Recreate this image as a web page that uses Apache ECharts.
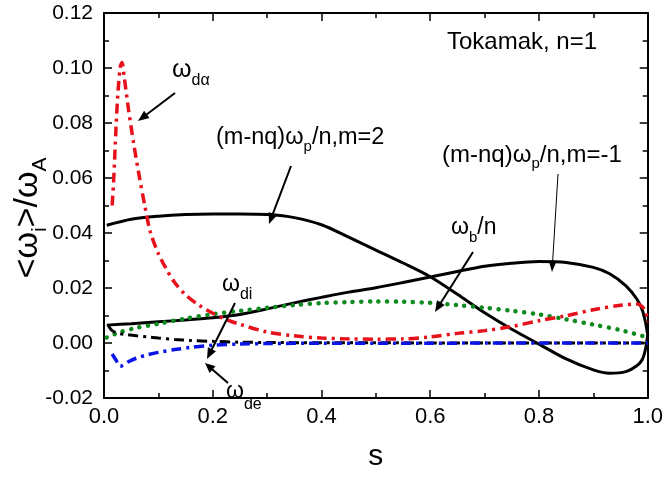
<!DOCTYPE html>
<html>
<head>
<meta charset="utf-8">
<script src="https://cdn.jsdelivr.net/npm/echarts@6/dist/echarts.min.js"></script>
<style>
html,body{margin:0;padding:0;background:#fff;}
#chart{width:666px;height:477px;}
</style>
</head>
<body>
<div id="chart"></div>
<script>
// ---- data ----
const xTicks = [0, 0.2, 0.4, 0.6, 0.8, 1.0];
const yTicks = [-0.02, 0, 0.02, 0.04, 0.06, 0.08, 0.10, 0.12];

// (m-nq) omega_p / n, m=2
const sM2 = [0.005, 0.05, 0.1, 0.15, 0.2, 0.25, 0.3, 0.35, 0.4, 0.45, 0.5, 0.55, 0.6, 0.65, 0.7, 0.75, 0.8, 0.85, 0.9, 0.93, 0.96, 0.98, 0.99, 0.996, 1.0];
const vM2 = [0.0428, 0.0450, 0.0461, 0.0467, 0.0469, 0.0469, 0.0467, 0.0456, 0.0430, 0.0385, 0.0338, 0.0291, 0.0241, 0.0177, 0.0110, 0.0050, -0.0004, -0.0058, -0.0098, -0.0110, -0.0104, -0.0083, -0.0060, -0.0022, 0.0030];

// (m-nq) omega_p / n, m=-1
const sM1 = [0.005, 0.05, 0.1, 0.15, 0.2, 0.25, 0.3, 0.35, 0.4, 0.45, 0.5, 0.55, 0.6, 0.65, 0.7, 0.75, 0.8, 0.85, 0.9, 0.93, 0.96, 0.98, 0.99, 0.996, 1.0];
const vM1 = [0.0065, 0.0070, 0.0077, 0.0084, 0.0092, 0.0104, 0.0124, 0.0146, 0.0166, 0.0185, 0.0201, 0.0220, 0.0240, 0.0260, 0.0279, 0.0290, 0.0296, 0.0293, 0.0275, 0.0252, 0.0208, 0.0160, 0.0120, 0.0075, 0.0030];

// omega_b / n
const sB = [0.005, 0.03, 0.06, 0.1, 0.15, 0.2, 0.25, 0.3, 0.35, 0.4, 0.45, 0.5, 0.55, 0.6, 0.65, 0.7, 0.75, 0.8, 0.85, 0.9, 0.95, 1.0];
const vB = [0.0020, 0.0040, 0.0055, 0.0070, 0.0089, 0.0105, 0.0117, 0.0128, 0.0138, 0.0145, 0.0149, 0.0151, 0.0150, 0.0146, 0.0138, 0.0128, 0.0117, 0.0104, 0.0086, 0.0067, 0.0047, 0.0020];

// omega_d alpha
const sDa = [0.015, 0.018, 0.022, 0.026, 0.03, 0.033, 0.037, 0.045, 0.055, 0.065, 0.075, 0.085, 0.1, 0.115, 0.13, 0.15, 0.175, 0.2, 0.225, 0.25, 0.3, 0.35, 0.4, 0.45, 0.5, 0.55, 0.6, 0.65, 0.7, 0.75, 0.8, 0.85, 0.9, 0.95, 0.98, 0.995, 1.0];
const vDa = [0.050, 0.060, 0.078, 0.092, 0.1005, 0.102, 0.097, 0.085, 0.072, 0.0605, 0.050, 0.0405, 0.0325, 0.0268, 0.0220, 0.0175, 0.0137, 0.0108, 0.0085, 0.0068, 0.0040, 0.0026, 0.0018, 0.0015, 0.0014, 0.0015, 0.0022, 0.0035, 0.0045, 0.0060, 0.0081, 0.0099, 0.0121, 0.0137, 0.0142, 0.0120, 0.0075];

// omega_di
const sDi = [0.008, 0.015, 0.025, 0.04, 0.06, 0.08, 0.1, 0.13, 0.16, 0.2, 0.25, 0.3, 0.4, 0.5, 0.6, 0.7, 0.8, 0.9, 1.0];
const vDi = [0.0063, 0.0045, 0.0036, 0.0031, 0.0026, 0.0022, 0.0018, 0.0013, 0.0009, 0.0006, 0.0003, 0.0002, 0.0001, 0.0001, 0, 0, 0, 0, 0];

// omega_de
const sDe = [0.015, 0.022, 0.03, 0.045, 0.06, 0.08, 0.1, 0.13, 0.16, 0.2, 0.25, 0.3, 0.4, 0.5, 0.6, 0.7, 0.8, 0.9, 1.0];
const vDe = [-0.0040, -0.0062, -0.0085, -0.0068, -0.0055, -0.0043, -0.0034, -0.0024, -0.0016, -0.0008, -0.0004, -0.0002, -0.0001, -0.0001, -0.0001, 0, 0, 0, 0];

// ---- chart ----
const FAM = "Liberation Sans";
const FONT = "'Liberation Sans', Arial, sans-serif";
const pairs = (xs, ys) => xs.map((x, i) => [x, ys[i]]);

const mctx = document.createElement('canvas').getContext('2d');
function textW(t, size) { mctx.font = size + "px '" + FAM + "'"; return mctx.measureText(t).width; }

function axisCommon(showLabel, fmt, fs, margin) {
  return {
    axisLine: {show: true, onZero: false, lineStyle: {color: '#000', width: 2}},
    axisTick: {show: true, inside: true, length: 8, lineStyle: {color: '#000', width: 1.5}},
    minorTick: {show: true, splitNumber: 2, length: 5, lineStyle: {color: '#000', width: 1.5}},
    splitLine: {show: false},
    minorSplitLine: {show: false},
    axisLabel: {show: showLabel, color: '#000', fontSize: fs || 20, fontFamily: FONT, formatter: fmt, margin: margin || 8}
  };
}

const chart = echarts.init(document.getElementById('chart'), null, {renderer: 'canvas'});

function lineSeries(name, data, color, width, type, cap) {
  return {
    name, type: 'line', data, showSymbol: false, symbol: 'none', smooth: 0.3,
    lineStyle: {color, width, type, cap: cap || 'butt'},
    xAxisIndex: 0, yAxisIndex: 0, z: 3
  };
}

function arrow(x1, y1, x2, y2, w, hl, hw) {
  const dx = x2 - x1, dy = y2 - y1, L = Math.hypot(dx, dy);
  const ux = dx / L, uy = dy / L, px = -uy, py = ux;
  const bx = x2 - ux * hl, by = y2 - uy * hl;
  return [
    {type: 'line', shape: {x1, y1, x2: bx + ux * 1, y2: by + uy * 1}, style: {stroke: '#000', lineWidth: w}, z: 10},
    {type: 'polygon', shape: {points: [[x2, y2], [bx + px * hw, by + py * hw], [bx - px * hw, by - py * hw]]}, style: {fill: '#000'}, z: 10}
  ];
}

// parts: [text, isSub]; lays pieces out from x0 around the centre line yc
function pieces(x0, yc, parts, F, S, d) {
  const out = [];
  let cx = x0;
  parts.forEach(([t, sub]) => {
    const size = sub ? S : F;
    out.push({type: 'text', x: cx, y: sub ? yc + d : yc, z: 10,
      style: {text: t, fill: '#000', fontFamily: FONT, fontSize: size, align: 'left', verticalAlign: 'middle'}});
    cx += textW(t, size);
  });
  return {children: out, width: cx - x0};
}

const graphics = [];
graphics.push(...arrow(175, 93, 138, 121, 2, 11, 4.5));
graphics.push(...arrow(291, 166, 269, 224, 2, 11, 4.5));
graphics.push(...arrow(558, 174, 552, 272, 1, 10, 3.5));
graphics.push(...arrow(473, 252, 435, 312, 2, 11, 4.5));
graphics.push(...arrow(235, 303, 207, 359, 2, 11, 4.5));
graphics.push(...arrow(228, 383, 205, 363, 2, 10, 4.5));

graphics.push(...pieces(172, 70, [['ω', 0], ['dα', 1]], 25, 16, 11).children);
graphics.push(...pieces(216, 138, [['(m-nq)ω', 0], ['p', 1], ['/n,m=2', 0]], 23.5, 15, 9).children);
graphics.push(...pieces(442, 155, [['(m-nq)ω', 0], ['p', 1], ['/n,m=-1', 0]], 24, 15, 9).children);
graphics.push(...pieces(451, 228, [['ω', 0], ['b', 1], ['/n', 0]], 23, 15, 10).children);
graphics.push(...pieces(222, 285, [['ω', 0], ['di', 1]], 23, 16, 10).children);
graphics.push(...pieces(226, 392, [['ω', 0], ['de', 1]], 23, 16, 13).children);
graphics.push({type: 'text', x: 447, y: 42, z: 10, style: {text: 'Tokamak, n=1', fill: '#000', fontFamily: FONT, fontSize: 24, align: 'left', verticalAlign: 'middle'}});

// y axis name, rotated
const yn = pieces(0, 0, [['<ω', 0], ['i', 1], ['>/ω', 0], ['A', 1]], 34, 21, 12);
yn.children.forEach(c => { c.x -= yn.width / 2; });
graphics.push({type: 'group', x: 28, y: 218, rotation: Math.PI / 2, children: yn.children});

const option = {
  animation: false,
  backgroundColor: '#fff',
  grid: {left: 104, right: 18, top: 13, bottom: 58, containLabel: false},
  xAxis: [
    Object.assign({type: 'value', position: 'bottom', min: xTicks[0], max: xTicks[xTicks.length - 1], interval: 0.2,
      name: 's', nameLocation: 'middle', nameGap: 44,
      nameTextStyle: {fontSize: 30, fontFamily: FONT, color: '#000'}}, axisCommon(true, v => v.toFixed(1), 22, 8)),
    Object.assign({type: 'value', position: 'top', min: 0, max: 1, interval: 0.2}, axisCommon(false))
  ],
  yAxis: [
    Object.assign({type: 'value', position: 'left', min: yTicks[0], max: yTicks[yTicks.length - 1], interval: 0.02}, axisCommon(true, v => v.toFixed(2), 21, 11)),
    Object.assign({type: 'value', position: 'right', min: -0.02, max: 0.12, interval: 0.02}, axisCommon(false))
  ],
  series: [
    lineSeries('m=2', pairs(sM2, vM2), '#000', 3, 'solid'),
    lineSeries('m=-1', pairs(sM1, vM1), '#000', 3, 'solid'),
    lineSeries('omega_b/n', pairs(sB, vB), '#0f8a1e', 4.5, [0.1, 8.5], 'round'),
    lineSeries('omega_dalpha', pairs(sDa, vDa), '#e8101a', 3.5, [10, 5, 3, 5]),
    lineSeries('omega_di', pairs(sDi, vDi), '#000', 3, [10, 5, 3, 5]),
    lineSeries('omega_de', pairs(sDe, vDe), '#0a14e6', 3.5, [10, 5, 3, 5])
  ],
  graphic: graphics
};
chart.setOption(option);
</script>
</body>
</html>
